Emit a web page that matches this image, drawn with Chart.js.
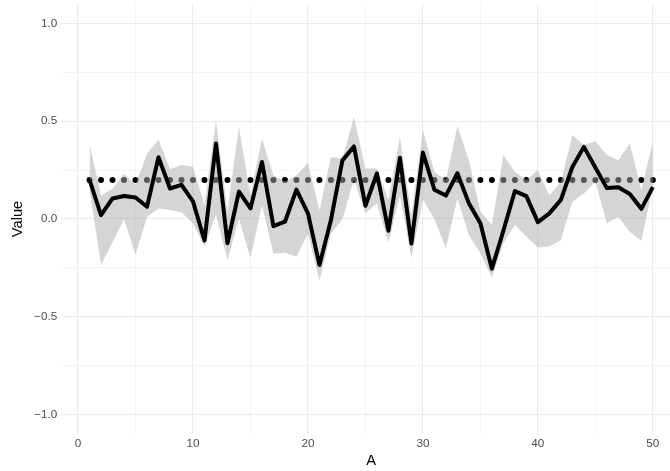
<!DOCTYPE html>
<html lang="en">
<head>
    <meta charset="UTF-8">
    <title>Value by A</title>
    <script src="https://cdn.jsdelivr.net/npm/chart.js"></script>
    <style>
        html, body { margin: 0; padding: 0; background: #ffffff; }
        .frame { width: 670px; height: 471px; overflow: hidden; position: relative; }
        canvas { display: block; }
    </style>
</head>
<body>
    <div class="frame">
        <canvas id="chart" width="688" height="471"></canvas>
    </div>

    <script>
        // x positions (A)
        const xs = [1, 2, 3, 4, 5, 6, 7, 8, 9, 10,
                    11, 12, 13, 14, 15, 16, 17, 18, 19, 20,
                    21, 22, 23, 24, 25, 26, 27, 28, 29, 30,
                    31, 32, 33, 34, 35, 36, 37, 38, 39, 40,
                    41, 42, 43, 44, 45, 46, 47, 48, 49, 50];

        // main black line
        const values = [0.20, 0.02, 0.105, 0.118, 0.11, 0.063, 0.316, 0.156, 0.175, 0.09,
                        -0.11, 0.386, -0.124, 0.14, 0.054, 0.292, -0.037, -0.014, 0.15, 0.029,
                        -0.235, -0.005, 0.30, 0.371, 0.068, 0.233, -0.06, 0.313, -0.125, 0.34,
                        0.15, 0.12, 0.234, 0.08, -0.022, -0.254, -0.06, 0.143, 0.117, -0.016,
                        0.029, 0.098, 0.266, 0.369, 0.264, 0.158, 0.162, 0.128, 0.052, 0.163];

        // grey band
        const upper = [0.386, 0.12, 0.155, 0.232, 0.175, 0.332, 0.406, 0.255, 0.276, 0.267,
                       0.07, 0.505, 0.04, 0.471, 0.12, 0.41, 0.224, 0.19, 0.224, 0.286,
                       0.045, 0.317, 0.31, 0.522, 0.258, 0.258, 0.097, 0.42, 0.02, 0.455,
                       0.24, 0.2, 0.475, 0.3, 0.037, -0.03, 0.327, 0.241, 0.2, 0.25,
                       0.12, 0.19, 0.429, 0.378, 0.398, 0.327, 0.301, 0.386, 0.148, 0.395];
        const lower = [0.15, -0.234, -0.12, 0.0, -0.182, 0.01, 0.054, 0.046, 0.034, -0.022,
                       -0.14, 0.02, -0.209, 0.0, -0.2, 0.07, -0.178, -0.172, -0.192, -0.075,
                       -0.315, -0.075, 0.0, 0.2, 0.03, 0.08, -0.12, 0.12, -0.2, 0.1,
                       0.0, -0.15, 0.105, -0.082, -0.175, -0.3, -0.124, -0.03, -0.09, -0.146,
                       -0.141, -0.107, 0.088, 0.131, 0.19, -0.022, 0.012, -0.065, -0.112, 0.165];

        // dotted reference level
        const refLevel = 0.2;

        // grid breaks and labels
        const xBreaks = [0, 5, 10, 15, 20, 25, 30, 35, 40, 45, 50];
        const xLabels = ['0', '', '10', '', '20', '', '30', '', '40', '', '50'];
        const yBreaks = [-1, -0.75, -0.5, -0.25, 0, 0.25, 0.5, 0.75, 1];
        const yLabels = ['\u22121.0', '', '\u22120.5', '', '0.0', '', '0.5', '', '1.0'];

        const pts = (ys) => xs.map((x, i) => ({ x: x, y: ys[i] }));

        new Chart(document.getElementById('chart').getContext('2d'), {
            type: 'line',
            data: {
                datasets: [
                    {
                        label: 'Value',
                        data: pts(values),
                        borderColor: '#000000',
                        borderWidth: 4,
                        borderJoinStyle: 'round',
                        pointRadius: 0,
                        fill: false,
                        tension: 0,
                        order: 0
                    },
                    {
                        label: 'upper',
                        data: pts(upper),
                        borderWidth: 0,
                        borderColor: 'rgba(0,0,0,0)',
                        pointRadius: 0,
                        backgroundColor: 'rgba(172,172,172,0.5)',
                        fill: '+1',
                        tension: 0,
                        order: 2
                    },
                    {
                        label: 'lower',
                        data: pts(lower),
                        borderWidth: 0,
                        borderColor: 'rgba(0,0,0,0)',
                        pointRadius: 0,
                        fill: false,
                        tension: 0,
                        order: 2
                    },
                    {
                        label: 'reference',
                        data: xs.map(x => ({ x: x, y: refLevel })),
                        showLine: false,
                        pointRadius: 3,
                        pointBorderWidth: 0,
                        pointBackgroundColor: '#000000',
                        fill: false,
                        order: 3
                    }
                ]
            },
            options: {
                responsive: false,
                devicePixelRatio: 1,
                animation: false,
                layout: { padding: { top: 2.4, right: 7, left: 0, bottom: 0 } },
                plugins: {
                    legend: { display: false },
                    tooltip: { enabled: false }
                },
                scales: {
                    x: {
                        type: 'linear',
                        min: -1.45,
                        max: 52.45,
                        afterBuildTicks: (scale) => { scale.ticks = xBreaks.map(v => ({ value: v })); },
                        afterFit: (scale) => {
                            scale.height = 37;
                            scale.paddingLeft = 0;
                            scale.paddingRight = 0;
                        },
                        border: { display: false },
                        grid: {
                            color: '#ebebeb',
                            drawTicks: false,
                            lineWidth: (ctx) => (ctx.tick && ctx.tick.value % 10 === 0) ? 1.1 : 0.55
                        },
                        ticks: {
                            padding: 3,
                            color: '#4d4d4d',
                            font: { family: 'Liberation Sans', size: 11.7 },
                            maxRotation: 0,
                            autoSkip: false,
                            callback: (v) => {
                                const i = xBreaks.indexOf(v);
                                return i >= 0 ? xLabels[i] : '';
                            }
                        },
                        title: {
                            display: true,
                            text: 'A',
                            color: '#000000',
                            font: { family: 'Liberation Sans', size: 14.67 },
                            padding: { top: 0, bottom: 1.5 }
                        }
                    },
                    y: {
                        type: 'linear',
                        min: -1.1,
                        max: 1.1,
                        afterBuildTicks: (scale) => { scale.ticks = yBreaks.map(v => ({ value: v })); },
                        afterFit: (scale) => {
                            scale.width = 61.35;
                            scale.paddingTop = 0;
                            scale.paddingBottom = 0;
                        },
                        border: { display: false },
                        grid: {
                            color: '#ebebeb',
                            drawTicks: false,
                            lineWidth: (ctx) => (ctx.tick && Math.abs(ctx.tick.value * 2 - Math.round(ctx.tick.value * 2)) < 1e-9) ? 1.1 : 0.55
                        },
                        ticks: {
                            padding: 4,
                            color: '#4d4d4d',
                            font: { family: 'Liberation Sans', size: 11.7 },
                            autoSkip: false,
                            callback: (v) => {
                                const i = yBreaks.findIndex(b => Math.abs(b - v) < 1e-9);
                                return i >= 0 ? yLabels[i] : '';
                            }
                        },
                        title: {
                            display: true,
                            text: 'Value',
                            color: '#000000',
                            font: { family: 'Liberation Sans', size: 14.67 },
                            padding: { top: 9, bottom: 0 }
                        }
                    }
                }
            }
        });
    </script>
</body>
</html>
